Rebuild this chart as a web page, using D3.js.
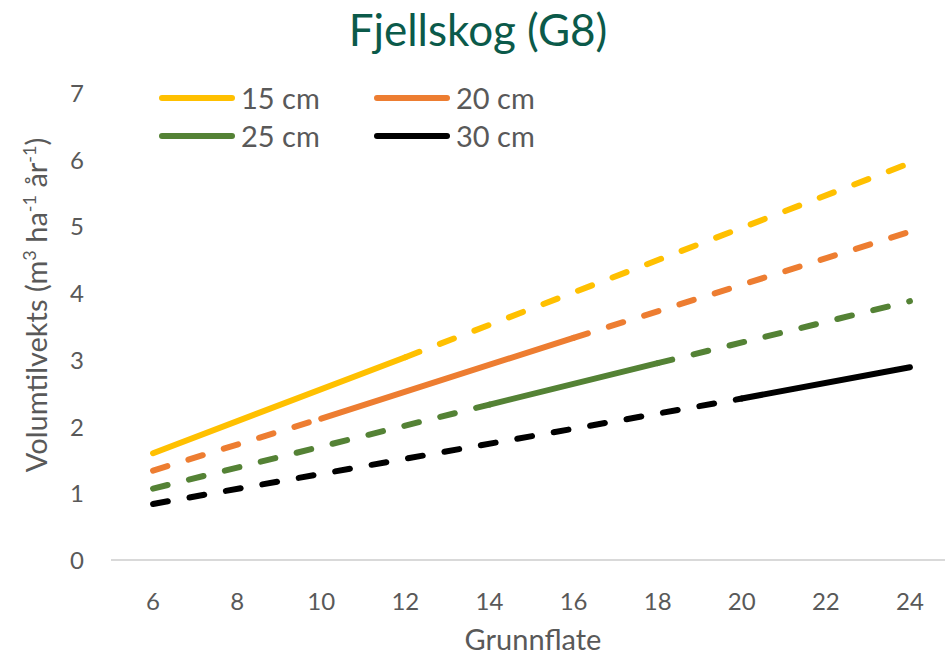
<!DOCTYPE html>
<html>
<head>
<meta charset="utf-8">
<script src="https://cdn.jsdelivr.net/npm/d3@7"></script>
<style>
  html, body { margin: 0; padding: 0; background: #fff; }
  svg { display: block; }
  text { font-family: Lato, "Noto Sans", sans-serif; }
</style>
</head>
<body>
<svg id="chart" width="945" height="658"></svg>
<script>
// Diameter classes shown as separate lines
const series = ["15 cm", "20 cm", "25 cm", "30 cm"];
const colors = ["#FFC000", "#ED7D31", "#548235", "#000000"];

// Grunnflate values where each line changes between dashed and solid
const breakX = [
  [6, 12, 24],
  [6, 10, 16, 24],
  [6, 14, 18, 24],
  [6, 20, 24]
];
// Volumtilvekst at those Grunnflate values
const breakY = [
  [1.60, 3.04, 5.95],
  [1.34, 2.12, 3.33, 4.92],
  [1.07, 2.33, 2.95, 3.88],
  [0.84, 2.42, 2.89]
];
// Grunnflate interval drawn as a solid line for each class
const solidRange = [[6, 12], [10, 16], [14, 18], [20, 24]];

const xTicks = [6, 8, 10, 12, 14, 16, 18, 20, 22, 24];
const yTicks = [0, 1, 2, 3, 4, 5, 6, 7];

const svg = d3.select("#chart");
const x = d3.scaleLinear().domain([5, 25]).range([111, 952]);
const y = d3.scaleLinear().domain([0, 7]).range([560, 93]);
const textGray = "#595959";

// Title
svg.append("text")
  .attr("x", 478).attr("y", 46)
  .attr("text-anchor", "middle")
  .attr("font-size", 44)
  .attr("fill", "#0B5A4A")
  .text("Fjellskog (G8)");

// X axis line and ticks
svg.append("line")
  .attr("x1", x(5)).attr("x2", 945)
  .attr("y1", y(0)).attr("y2", y(0))
  .attr("stroke", "#D9D9D9").attr("stroke-width", 2);

svg.append("g").selectAll("text").data(xTicks).join("text")
  .attr("x", d => x(d)).attr("y", 610)
  .attr("text-anchor", "middle")
  .attr("font-size", 24)
  .attr("fill", textGray)
  .text(d => d);

svg.append("g").selectAll("text").data(yTicks).join("text")
  .attr("x", 77).attr("y", d => y(d) + 9)
  .attr("text-anchor", "middle")
  .attr("font-size", 24)
  .attr("fill", textGray)
  .text(d => d);

// Axis titles
svg.append("text")
  .attr("x", 533).attr("y", 650)
  .attr("text-anchor", "middle")
  .attr("font-size", 29)
  .attr("fill", textGray)
  .text("Grunnflate");

const yTitle = svg.append("text")
  .attr("transform", "translate(47,305) rotate(-90)")
  .attr("text-anchor", "middle")
  .attr("font-size", 29)
  .attr("fill", textGray);
yTitle.append("tspan").text("Volumtilvekts (m");
yTitle.append("tspan").attr("font-size", 18).attr("dy", -11).text("3");
yTitle.append("tspan").attr("dy", 11).text(" ha");
yTitle.append("tspan").attr("font-size", 18).attr("dy", -11).text("-1");
yTitle.append("tspan").attr("dy", 11).text(" år");
yTitle.append("tspan").attr("font-size", 18).attr("dy", -11).text("-1");
yTitle.append("tspan").attr("dy", 11).text(")");

// Lines
const line = d3.line().x(d => x(d[0])).y(d => y(d[1]));
const plot = svg.append("g");

series.forEach((name, i) => {
  const pts = breakX[i].map((bx, j) => [bx, breakY[i][j]]);
  const [s0, s1] = solidRange[i];
  // dashed pieces before and after the solid interval
  const before = pts.filter(p => p[0] <= s0);
  const after = pts.filter(p => p[0] >= s1);
  const solid = pts.filter(p => p[0] >= s0 && p[0] <= s1);
  [before, after].forEach(seg => {
    if (seg.length < 2) return;
    plot.append("path")
      .attr("d", line(seg))
      .attr("fill", "none")
      .attr("stroke", colors[i])
      .attr("stroke-width", 6)
      .attr("stroke-linecap", "round")
      .attr("stroke-dasharray", "15 22");
  });
  plot.append("path")
    .attr("d", line(solid))
    .attr("fill", "none")
    .attr("stroke", colors[i])
    .attr("stroke-width", 6)
    .attr("stroke-linecap", "round");
});

// Legend
const legendPos = [[162, 98], [377, 98], [162, 136], [377, 136]];
const legend = svg.append("g");
series.forEach((name, i) => {
  const [lx, ly] = legendPos[i];
  legend.append("line")
    .attr("x1", lx).attr("x2", lx + 70)
    .attr("y1", ly).attr("y2", ly)
    .attr("stroke", colors[i]).attr("stroke-width", 6)
    .attr("stroke-linecap", "round");
  legend.append("text")
    .attr("x", lx + 79).attr("y", ly + 11)
    .attr("font-size", 29)
    .attr("fill", textGray)
    .text(name);
});
</script>
</body>
</html>
